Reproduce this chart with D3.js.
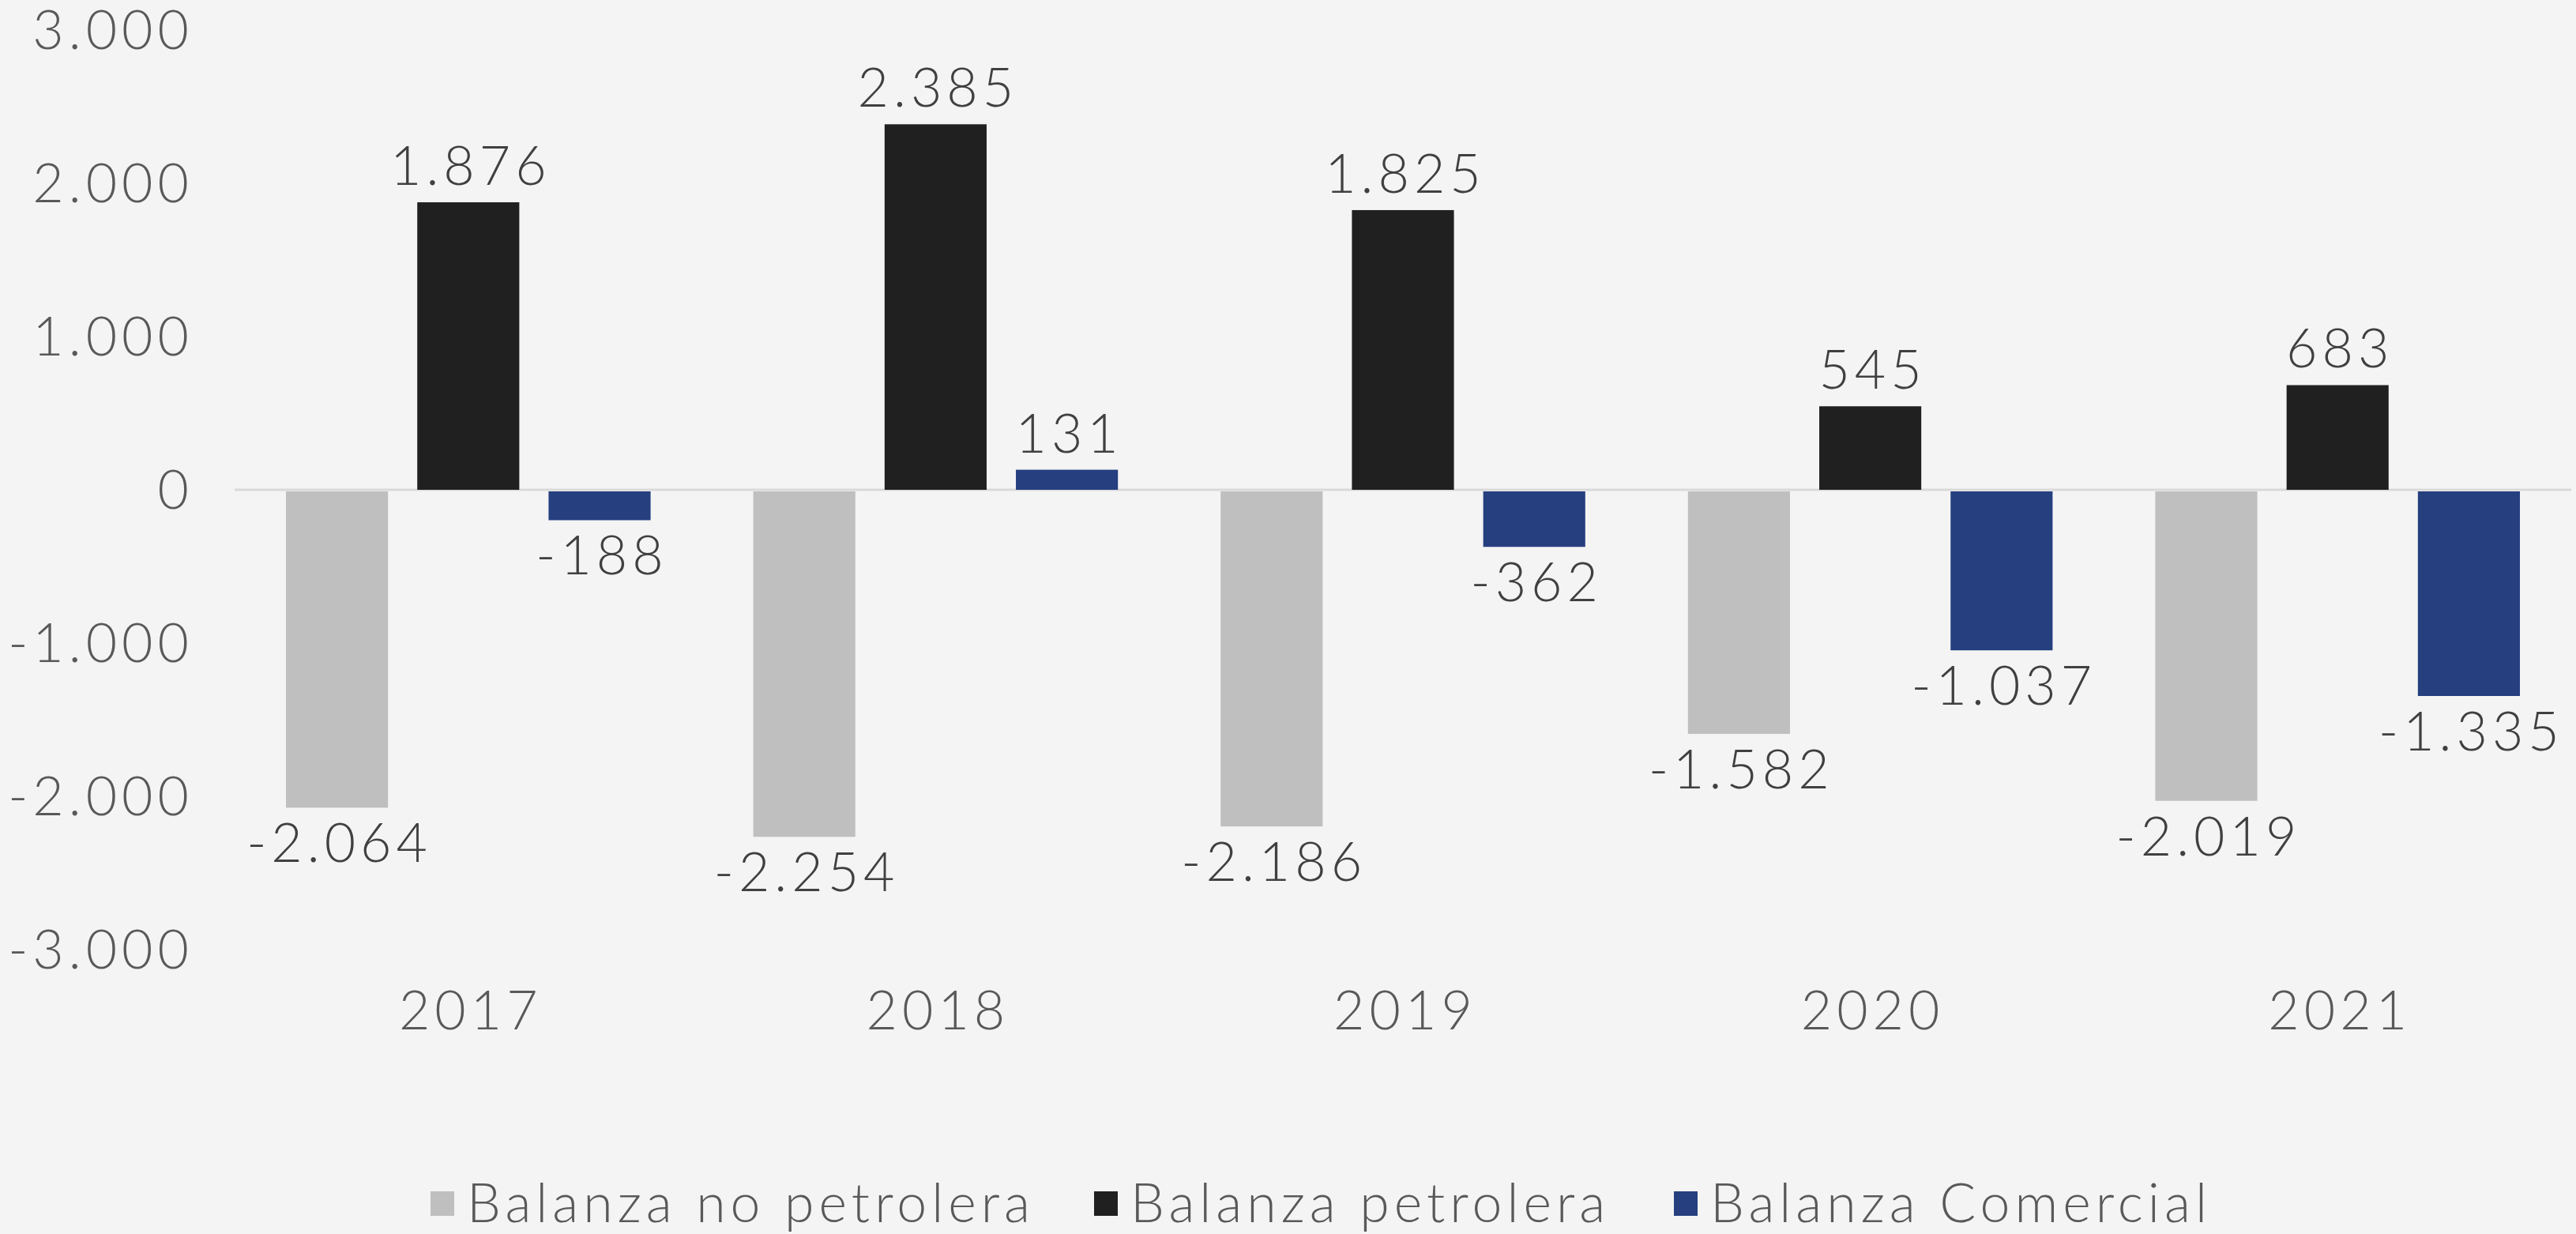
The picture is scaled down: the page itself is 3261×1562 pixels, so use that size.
<!DOCTYPE html>
<html>
<head>
<meta charset="utf-8">
<script src="https://cdn.jsdelivr.net/npm/d3@7"></script>
<style>
  html, body { margin: 0; padding: 0; background: #f4f4f4; }
  svg { display: block; }
</style>
</head>
<body>
<script>
// Balanza comercial by year
const years = ["2017", "2018", "2019", "2020", "2021"];
const seriesNames = ["Balanza no petrolera", "Balanza petrolera", "Balanza Comercial"];
const noPetrolera = [-2064, -2254, -2186, -1582, -2019];
const petrolera = [1876, 2385, 1825, 545, 683];
const comercial = [-188, 131, -362, -1037, -1335];
const yTicks = [-3000, -2000, -1000, 0, 1000, 2000, 3000];

const colors = ["#bfbfbf", "#202020", "#253f7f"];

const width = 3261;
const height = 1562;
const marginTop = 38;
const marginRight = 6;
const marginBottom = 360;
const marginLeft = 297;

const font = "Lato, 'Open Sans', sans-serif";
const fontSize = 68;
const spacing = 6; // reference font runs wider than Lato

const locale = d3.formatLocale({ decimal: ",", thousands: ".", grouping: [3], currency: ["", ""], minus: "-" });
const fmt = locale.format(",d");

const svg = d3.create("svg")
  .attr("width", width)
  .attr("height", height)
  .attr("viewBox", [0, 0, width, height]);

svg.append("rect")
  .attr("width", width)
  .attr("height", height)
  .attr("fill", "#f4f4f4");

const x = d3.scaleBand()
  .domain(years)
  .range([marginLeft, width - marginRight]);

const groupPad = 65;
const x1 = d3.scaleBand()
  .domain(d3.range(3))
  .range([groupPad, x.bandwidth() - groupPad])
  .paddingInner(0.223);

const y = d3.scaleLinear()
  .domain([-3000, 3000])
  .range([height - marginBottom, marginTop]);

function styleText(sel, color) {
  return sel
    .attr("font-family", font)
    .attr("font-weight", 300)
    .attr("font-size", fontSize)
    .attr("letter-spacing", spacing)
    .attr("fill", color);
}

// y tick labels (no axis line)
svg.append("g")
  .selectAll("text")
  .data(yTicks)
  .join("text")
  .attr("x", 239 + spacing)
  .attr("y", d => y(d))
  .attr("dy", "0.36em")
  .attr("text-anchor", "end")
  .call(styleText, "#595959")
  .text(d => fmt(d));

// zero line
svg.append("line")
  .attr("x1", marginLeft)
  .attr("x2", width - marginRight)
  .attr("y1", y(0))
  .attr("y2", y(0))
  .attr("stroke", "#d9d9d9")
  .attr("stroke-width", 3);

const rows = years.map((yr, i) => ({
  year: yr,
  values: [noPetrolera[i], petrolera[i], comercial[i]]
}));

const groups = svg.append("g")
  .selectAll("g")
  .data(rows)
  .join("g")
  .attr("transform", d => `translate(${x(d.year)},0)`);

groups.selectAll("rect")
  .data(d => d.values.map((v, k) => ({ v, k })))
  .join("rect")
  .attr("x", d => x1(d.k))
  .attr("width", x1.bandwidth())
  .attr("y", d => d.v >= 0 ? y(d.v) : y(0) + 2)
  .attr("height", d => Math.abs(y(d.v) - y(0)))
  .attr("fill", d => colors[d.k]);

// data labels
groups.selectAll("text")
  .data(d => d.values.map((v, k) => ({ v, k })))
  .join("text")
  .attr("x", d => x1(d.k) + x1.bandwidth() / 2 + spacing / 2)
  .attr("y", d => d.v >= 0 ? y(d.v) - 22 : y(d.v) + 22)
  .attr("dy", d => d.v >= 0 ? "0" : "0.72em")
  .attr("text-anchor", "middle")
  .call(styleText, "#404040")
  .text(d => fmt(d.v));

// x labels
svg.append("g")
  .selectAll("text")
  .data(years)
  .join("text")
  .attr("x", d => x(d) + x.bandwidth() / 2 + spacing / 2)
  .attr("y", 1279)
  .attr("dy", "0.36em")
  .attr("text-anchor", "middle")
  .call(styleText, "#595959")
  .text(d => d);

// legend
const legendX = [545, 1385, 2119];
const legend = svg.append("g")
  .selectAll("g")
  .data(seriesNames)
  .join("g")
  .attr("transform", (d, i) => `translate(${legendX[i]},1523)`);

legend.append("rect")
  .attr("y", -15)
  .attr("width", 30)
  .attr("height", 31)
  .attr("fill", (d, i) => colors[i]);

legend.append("text")
  .attr("x", 46)
  .attr("dy", "0.36em")
  .call(styleText, "#595959")
  .text(d => d);

document.body.appendChild(svg.node());
</script>
</body>
</html>
